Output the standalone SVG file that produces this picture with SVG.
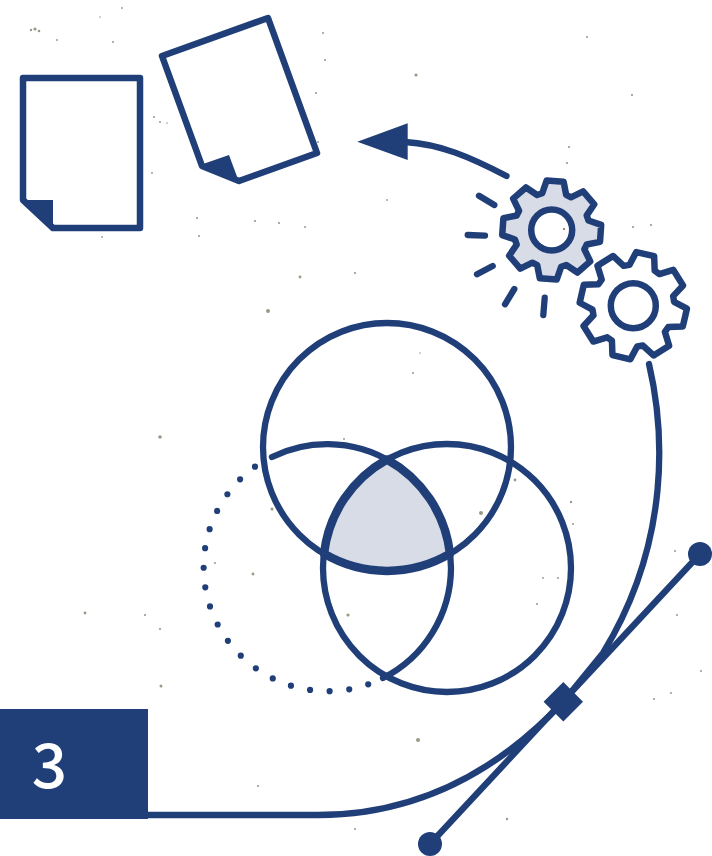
<svg xmlns="http://www.w3.org/2000/svg" width="712" height="856" viewBox="0 0 712 856">
  <style>
    .ln{fill:none;stroke:#203f79;stroke-width:6.300;stroke-linecap:round;stroke-linejoin:round}
    .thick{stroke-width:8.500}
    .dots{stroke-width:6.200}
    .solid{fill:#203f79}
    .page{fill:#fff;stroke:#203f79;stroke-width:6.500;stroke-linejoin:round}
    .tint{fill:#d8dce7}
    .sp circle{fill:#77775f;opacity:.75}
  </style>
  <defs>
    <path id="gearShape" d="M-12-36L-8.500-49L8.500-49L12-36L16.970-33.940L28.640-40.660L40.660-28.640L33.940-16.970L36-12L49-8.500L49 8.500L36 12L33.940 16.970L40.660 28.640L28.640 40.660L16.970 33.940L12 36L8.500 49L-8.500 49L-12 36L-16.970 33.940L-28.640 40.660L-40.660 28.640L-33.940 16.970L-36 12L-49 8.500L-49-8.500L-36-12L-33.940-16.970L-40.660-28.640L-28.640-40.660L-16.970-33.940Z"/>
  </defs>
  <rect width="712" height="856" fill="#fff"/>
  <g id="texture" class="sp">
    <circle cx="35" cy="29" r="1.600"/><circle cx="31" cy="30" r="1.200"/><circle cx="39" cy="31" r="1.300"/><circle cx="57" cy="40" r="1"/><circle cx="113" cy="42" r="1"/><circle cx="122" cy="8" r=".9"/><circle cx="100" cy="17" r=".8"/><circle cx="154" cy="117" r="1"/><circle cx="160" cy="122" r="1"/><circle cx="167" cy="123" r=".8"/><circle cx="152" cy="173" r=".9"/><circle cx="197" cy="218" r="1.100"/><circle cx="255" cy="221" r="1.100"/><circle cx="279" cy="223" r="1.100"/><circle cx="305" cy="227" r="1"/><circle cx="323" cy="33" r="1"/><circle cx="325" cy="60" r="1.100"/><circle cx="316" cy="93" r="1"/><circle cx="318" cy="142" r="1"/><circle cx="199" cy="236" r="1"/><circle cx="102" cy="237" r=".9"/>
    <circle cx="569" cy="147" r="1.100"/><circle cx="567" cy="163" r="1.100"/><circle cx="633" cy="227" r="1.100"/><circle cx="651" cy="225" r="1.100"/><circle cx="387" cy="200" r=".9"/><circle cx="355" cy="273" r="1.100"/><circle cx="413" cy="373" r="1"/><circle cx="420" cy="353" r=".8"/>
    <circle cx="481" cy="513" r="2"/><circle cx="515" cy="480" r="1.400"/><circle cx="571" cy="502" r="1.200"/><circle cx="573" cy="524" r="1"/><circle cx="253" cy="574" r="1.400"/><circle cx="215" cy="563" r="1"/><circle cx="272" cy="509" r="1.500"/><circle cx="348" cy="615" r="1.600"/><circle cx="344" cy="439" r="1"/><circle cx="558" cy="578" r="1"/><circle cx="537" cy="604" r="1"/><circle cx="543" cy="578" r=".9"/><circle cx="268" cy="311" r="2"/>
    <circle cx="85" cy="613" r="1.400"/><circle cx="145" cy="615" r="1.100"/><circle cx="160" cy="629" r="1.100"/><circle cx="161" cy="686" r="1.500"/><circle cx="258" cy="786" r="1.100"/><circle cx="507" cy="819" r="1.200"/><circle cx="355" cy="829" r="1"/><circle cx="418" cy="740" r="2" opacity=".4"/><circle cx="654" cy="699" r="1"/><circle cx="701" cy="671" r="1"/><circle cx="671" cy="693" r="1"/><circle cx="677" cy="615" r="1"/><circle cx="675" cy="551" r="1"/>
    <circle cx="416" cy="75" r="1.600"/><circle cx="632" cy="95" r="1.100"/><circle cx="160" cy="437" r="1.800"/><circle cx="587" cy="37" r="1"/><circle cx="300" cy="277" r="1.400"/>
  </g>
  <g id="doc-front">
    <path class="page" d="M23 78H140V228H53L23 200Z"/>
    <path class="solid" d="M23 200H53V230Z"/>
  </g>
  <g id="doc-back">
    <path class="page" d="M162 56L268 18L317 153L239 181L202 166Z"/>
    <path class="solid" d="M203 164L229 155L239 182Z"/>
  </g>
  <g id="connectors">
    <path class="ln" d="M506.500 176C470 157 440 144 405 142"/>
    <path class="solid" d="M357.300 141.700L407.700 123.300V160Z"/>
    <path class="ln" d="M649 364C664 428 672 540 603 653L563 702C530 737 450 815 318 815H148"/>
    <path class="ln" d="M430 844L700 554"/>
  </g>
  <g id="handle">
    <circle class="solid" cx="700" cy="554" r="12"/>
    <circle class="solid" cx="430" cy="844" r="12"/>
    <path class="solid" d="M563.300 682L583 701.700L563.300 721.400L543.600 701.700Z"/>
  </g>
  <g id="venn">
    <path class="tint" d="M387 459.500A124 124 0 0 1 450 553.700A124 124 0 0 1 324 553.700A124 124 0 0 1 387 459.500Z"/>
    <circle class="ln" cx="387" cy="447" r="124"/>
    <circle class="ln" cx="447" cy="568" r="124"/>
    <path class="ln" d="M272 457A124 124 0 0 1 451 568A124 124 0 0 1 383 678"/>
    <path class="ln thick" d="M387 459.500A124 124 0 0 1 450 553.700A124 124 0 0 1 324 553.700A124 124 0 0 1 387 459.500Z"/>
    <path class="ln dots" stroke-dasharray="0 19.600" d="M255 466.700A124 124 0 0 0 382.700 678.300"/>
  </g>
  <g id="gear-small">
    <use href="#gearShape" transform="translate(551.700 230) rotate(4)" class="tint" stroke="#203f79" stroke-width="6.500" stroke-linejoin="round"/>
    <circle cx="551.700" cy="230" r="20.500" fill="#fff" stroke="#203f79" stroke-width="6.500"/>
    <circle cx="564" cy="229" r="1.100" fill="#77775f"/>
  </g>
  <g id="gear-large">
    <use href="#gearShape" transform="translate(633.300 305.700) rotate(13) scale(1.080)" fill="#fff" stroke="#203f79" stroke-width="6" stroke-linejoin="round"/>
    <circle cx="633.300" cy="305.700" r="22.500" fill="#fff" stroke="#203f79" stroke-width="6.500"/>
  </g>
  <g id="sparks">
    <path class="ln" d="M479 195.700L494.300 205M467.700 235L485 235.700M477 274.300L492.700 266M505 304.300L514.300 289M543.300 315L544.700 297.700"/>
  </g>
  <g id="step-badge">
    <rect class="solid" x="0" y="709" width="148" height="110"/>
    <text x="49.500" y="788" text-anchor="middle" font-family="'Noto Sans CJK SC','Noto Sans',sans-serif" font-weight="500" font-size="62" fill="#fff">3</text>
  </g>
</svg>
